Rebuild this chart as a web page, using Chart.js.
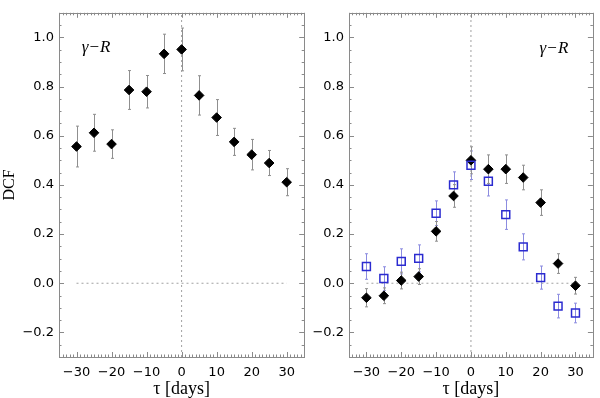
<!DOCTYPE html>
<html>
<head>
<meta charset="utf-8">
<script src="https://cdn.jsdelivr.net/npm/chart.js@4"></script>
<style>
body { margin: 0; background: #fff; width: 600px; height: 398px; position: relative; overflow: hidden; }
.box { position: absolute; top: 0; height: 398px; }
</style>
</head>
<body>
<div class="box" style="left:0;width:310px"><canvas id="left"></canvas></div>
<div class="box" style="left:300px;width:300px"><canvas id="right"></canvas></div>
<script>
// time lags (days)
const lags = [-30, -25, -20, -15, -10, -5, 0, 5, 10, 15, 20, 25, 30];

// left panel: gamma - R
const dcfLeft = [0.556, 0.612, 0.566, 0.786, 0.779, 0.933, 0.951, 0.764, 0.674, 0.575, 0.523, 0.489, 0.411];
const errLeft = [0.083, 0.075, 0.058, 0.079, 0.066, 0.080, 0.087, 0.080, 0.073, 0.055, 0.062, 0.051, 0.055];

// right panel: black diamonds and blue squares
const dcfRightBlack = [-0.059, -0.051, 0.011, 0.027, 0.211, 0.355, 0.500, 0.464, 0.464, 0.430, 0.328, 0.080, -0.010];
const errRightBlack = [0.037, 0.032, 0.034, 0.032, 0.040, 0.046, 0.055, 0.058, 0.058, 0.050, 0.052, 0.040, 0.034];
const dcfRightBlue = [0.068, 0.019, 0.089, 0.101, 0.285, 0.400, 0.480, 0.415, 0.279, 0.148, 0.023, -0.093, -0.121];
const errRightBlue = [0.052, 0.048, 0.051, 0.055, 0.050, 0.053, 0.058, 0.060, 0.060, 0.053, 0.047, 0.048, 0.040];

const xTicks = [-30, -20, -10, 0, 10, 20, 30];
const yTicks = [-0.2, 0.0, 0.2, 0.4, 0.6, 0.8, 1.0];
const zeroLine = [-30, 30];
const zeroVert = [-0.3, 1.1];

const frameColor = '#8a8a8a';

function pts(ys) {
	return lags.map((x, i) => ({ x: x, y: ys[i] }));
}

function minus(s) {
	return s.replace('-', '\u2212');
}

// error bars drawn from the dataset's own errors array
const errorBars = {
	id: 'errorBars',
	beforeDatasetsDraw(chart) {
		const ctx = chart.ctx;
		const xs = chart.scales.x, ys = chart.scales.y;
		chart.data.datasets.forEach(ds => {
			if (!ds.errors) return;
			ctx.save();
			ctx.strokeStyle = ds.errorColor;
			ctx.lineWidth = 1;
			ds.data.forEach((p, i) => {
				const px = Math.round(xs.getPixelForValue(p.x)) + 0.5;
				const top = ys.getPixelForValue(p.y + ds.errors[i]);
				const bot = ys.getPixelForValue(p.y - ds.errors[i]);
				ctx.beginPath();
				ctx.moveTo(px, top); ctx.lineTo(px, bot);
				ctx.moveTo(px - 1.5, top); ctx.lineTo(px + 1.5, top);
				ctx.moveTo(px - 1.5, bot); ctx.lineTo(px + 1.5, bot);
				ctx.stroke();
			});
			ctx.restore();
		});
	}
};

// frame with inward ticks on all four sides, plus the label
const frame = {
	id: 'frame',
	afterDraw(chart, args, opts) {
		const ctx = chart.ctx;
		const a = chart.chartArea;
		const xs = chart.scales.x, ys = chart.scales.y;
		ctx.save();
		ctx.strokeStyle = frameColor;
		ctx.lineWidth = 1;
		ctx.strokeRect(Math.round(a.left) + 0.5, Math.round(a.top) + 0.5, Math.round(a.right - a.left), Math.round(a.bottom - a.top));
		ctx.beginPath();
		for (let v = -35; v <= 35; v++) {
			const px = Math.round(xs.getPixelForValue(v)) + 0.5;
			const len = v % 10 === 0 ? 5 : 2.5;
			ctx.moveTo(px, a.bottom); ctx.lineTo(px, a.bottom - len);
			ctx.moveTo(px, a.top); ctx.lineTo(px, a.top + len);
		}
		for (let k = -6; k <= 22; k++) {
			const v = k * 0.05;
			const py = Math.round(ys.getPixelForValue(v)) + 0.5;
			const len = k % 4 === 0 ? 5 : 2.5;
			ctx.moveTo(a.left, py); ctx.lineTo(a.left + len, py);
			ctx.moveTo(a.right, py); ctx.lineTo(a.right - len, py);
		}
		ctx.stroke();
		if (opts.label) {
			const lx = xs.getPixelForValue(opts.label.x);
			const ly = ys.getPixelForValue(opts.label.y);
			ctx.fillStyle = '#000';
			ctx.textBaseline = 'middle';
			ctx.font = 'italic 17px "Liberation Serif"';
			ctx.fillText('\u03b3', lx, ly);
			let w = ctx.measureText('\u03b3').width + 1;
			ctx.font = '17px "Liberation Serif"';
			ctx.fillText('\u2212', lx + w, ly);
			w += ctx.measureText('\u2212').width + 1;
			ctx.font = 'italic 17px "Liberation Serif"';
			ctx.fillText('R', lx + w, ly);
		}
		ctx.restore();
	}
};

function guides() {
	return [{
		type: 'line',
		data: zeroLine.map(x => ({ x: x, y: 0 })),
		borderColor: '#a0a0a0',
		borderWidth: 1,
		borderDash: [2, 3],
		pointRadius: 0
	}, {
		type: 'line',
		data: zeroVert.map(y => ({ x: 0, y: y })),
		borderColor: '#a0a0a0',
		borderWidth: 1,
		borderDash: [2, 3],
		pointRadius: 0
	}];
}

function makeChart(id, datasets, yWidth, rightPad, yTitle, label) {
	const config = {
		type: 'scatter',
		data: { datasets: datasets.concat(guides()) },
		options: {
			responsive: true,
			maintainAspectRatio: false,
			animation: false,
			layout: { padding: { top: 5, right: rightPad, bottom: 0, left: 0 } },
			plugins: {
				legend: { display: false },
				tooltip: { enabled: false },
				frame: { label: label }
			},
			scales: {
				x: {
					type: 'linear',
					min: -35,
					max: 35,
					afterBuildTicks: s => { s.ticks = xTicks.map(v => ({ value: v })); },
					afterFit: s => { s.height = 41; },
					grid: { display: false, drawTicks: false },
					border: { display: false },
					ticks: {
						color: '#000',
						padding: 8,
						font: { family: '"DejaVu Sans"', size: 13 },
						callback: v => minus(String(v))
					},
					title: {
						display: true,
						text: '\u03c4 [days]',
						color: '#000',
						padding: { top: 0, bottom: 0 },
						font: { family: '"Liberation Serif"', size: 18, lineHeight: 1 }
					}
				},
				y: {
					min: -0.3,
					max: 1.1,
					afterBuildTicks: s => { s.ticks = yTicks.map(v => ({ value: v })); },
					afterFit: s => { s.width = yWidth; },
					grid: { display: false, drawTicks: false },
					border: { display: false },
					ticks: {
						color: '#000',
						padding: 5,
						font: { family: '"DejaVu Sans"', size: 13 },
						callback: v => minus(Math.abs(v) < 1e-9 ? '0.0' : v.toFixed(1))
					},
					title: {
						display: !!yTitle,
						text: yTitle,
						color: '#000',
						padding: { top: 2, bottom: 0 },
						font: { family: '"Liberation Serif"', size: 16, lineHeight: 1 }
					}
				}
			}
		},
		plugins: [errorBars, frame]
	};
	return new Chart(document.getElementById(id), config);
}

makeChart('left', [{
	data: pts(dcfLeft),
	errors: errLeft,
	errorColor: '#8f8f8f',
	pointStyle: 'rectRot',
	pointRadius: 4.8,
	backgroundColor: '#000',
	borderColor: '#000',
	borderWidth: 1
}], 59, 4, 'DCF', { x: -28.5, y: 0.96 });

makeChart('right', [{
	data: pts(dcfRightBlue),
	errors: errRightBlue,
	errorColor: '#8c8ce0',
	pointStyle: 'rect',
	pointRadius: 5.6,
	backgroundColor: 'rgba(0,0,0,0)',
	borderColor: '#2b2bd0',
	borderWidth: 1.5
}, {
	data: pts(dcfRightBlack),
	errors: errRightBlack,
	errorColor: '#8f8f8f',
	pointStyle: 'rectRot',
	pointRadius: 4.8,
	backgroundColor: '#000',
	borderColor: '#000',
	borderWidth: 1
}], 49, 2, '', { x: 19.7, y: 0.955 });
</script>
</body>
</html>
